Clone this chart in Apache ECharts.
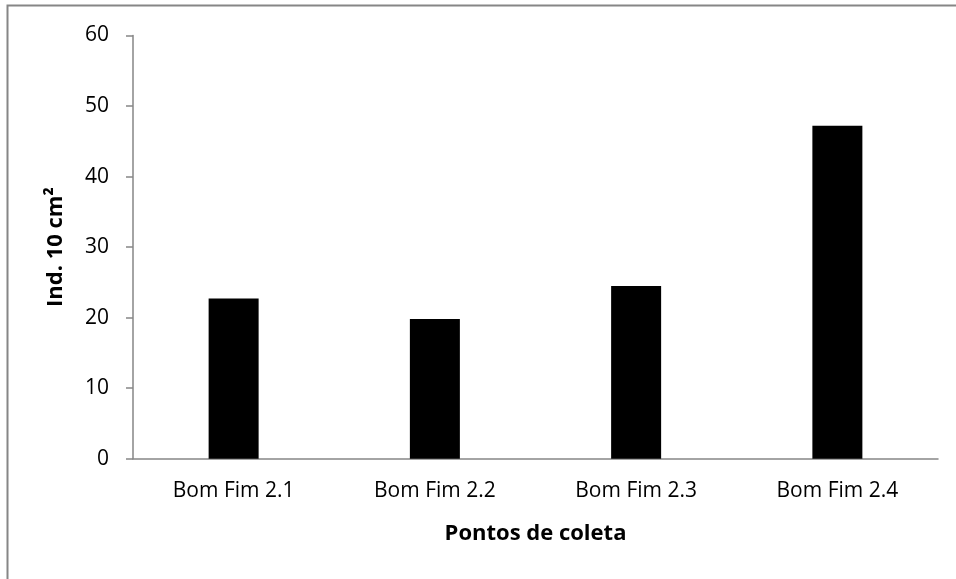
<!DOCTYPE html>
<html><head><meta charset="utf-8">
<script src="https://cdn.jsdelivr.net/npm/echarts@6/dist/echarts.min.js"></script>
<style>html,body{margin:0;padding:0;background:#fff}#c{width:956px;height:579px}</style>
</head><body><div id="c"></div>
<script>
const categories = ["Bom Fim 2.1", "Bom Fim 2.2", "Bom Fim 2.3", "Bom Fim 2.4"];
const values = [22.7, 19.8, 24.5, 47.2];
const yTitle = "Ind. 10 cm²";
const xTitle = "Pontos de coleta";
const FONT = "'Open Sans', 'Noto Sans', sans-serif";
const chart = echarts.init(document.getElementById('c'), null, {renderer: 'canvas'});
chart.setOption({
  animation: false,
  backgroundColor: '#fff',
  graphic: [{type: 'rect', shape: {x: 7.5, y: 5.5, width: 960, height: 600}, style: {fill: 'none', stroke: '#868686', lineWidth: 2}, silent: true}],
  grid: {left: 133, right: 18, top: 35.5, bottom: 120.3, containLabel: false},
  xAxis: {
    type: 'category', data: categories,
    axisLine: {lineStyle: {color: '#868686', width: 1.5}},
    axisTick: {show: false},
    axisLabel: {color: '#000', fontFamily: FONT, fontSize: 21, margin: 22},
    name: xTitle, nameLocation: 'middle', nameGap: 64,
    nameTextStyle: {color: '#000', fontFamily: FONT, fontSize: 22, fontWeight: 'bold'}
  },
  yAxis: {
    type: 'value', min: 0, max: 60, interval: 10,
    axisLine: {show: true, lineStyle: {color: '#868686', width: 1.5}},
    axisTick: {show: true, length: 7, lineStyle: {color: '#868686', width: 1.5}},
    splitLine: {show: false},
    axisLabel: {color: '#000', fontFamily: FONT, fontSize: 21, margin: 24},
    name: yTitle, nameLocation: 'middle', nameGap: 66, nameRotate: 90,
    nameTextStyle: {color: '#000', fontFamily: FONT, fontSize: 22, fontWeight: 'bold'}
  },
  series: [{type: 'bar', data: values, barWidth: 50, itemStyle: {color: '#000'}}]
});
</script></body></html>
